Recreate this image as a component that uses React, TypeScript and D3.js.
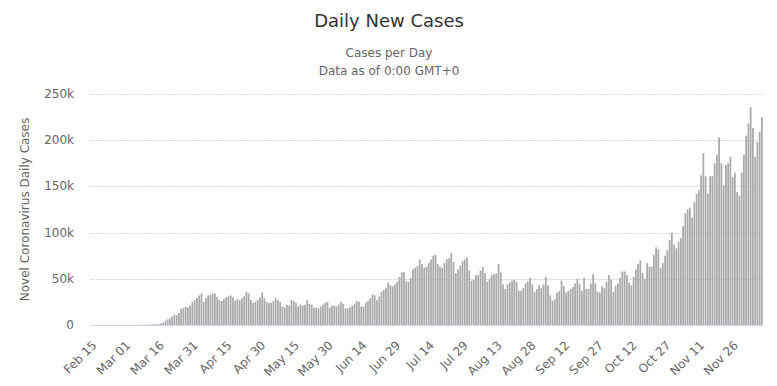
import { useMemo } from 'react'
import * as d3 from 'd3'

// daily new cases, Feb 15 .. Dec 9 (one value per day)
const feb = [0, 0, 0, 0, 0, 0, 0, 0, 0, 0, 0, 0, 1, 2, 3]
const mar = [8, 20, 25, 30, 70, 100, 110, 120, 200, 300, 400, 500, 600, 700, 800, 1000, 1800, 2500, 4500, 6000, 7000, 9000, 11000, 10500, 13000, 17500, 18500, 19500, 19000, 21000, 25000]
const apr = [27000, 29000, 32000, 34000, 25000, 29000, 32000, 33000, 34000, 34000, 30000, 27000, 26000, 28000, 30000, 31000, 32000, 30000, 26000, 28000, 27000, 29000, 31000, 36000, 34000, 27000, 24000, 25000, 27000, 30000]
const may = [35000, 29000, 25000, 24000, 24000, 26000, 29000, 27000, 25000, 20000, 19000, 22000, 21000, 27000, 26000, 24000, 20000, 22000, 21000, 22000, 27000, 23000, 22000, 19000, 19000, 18000, 20000, 22000, 24000, 25000, 19000]
const jun = [21000, 21000, 20000, 22000, 25000, 23000, 18000, 18000, 19000, 21000, 23000, 26000, 25000, 20000, 20000, 24000, 26000, 29000, 33000, 32000, 27000, 31000, 36000, 38000, 40000, 46000, 43000, 42000, 44000, 47000]
const jul = [52000, 57000, 57000, 47000, 47000, 51000, 60000, 62000, 64000, 71000, 66000, 62000, 63000, 67000, 71000, 75000, 76000, 66000, 63000, 62000, 67000, 71000, 72000, 78000, 68000, 56000, 60000, 64000, 69000, 71000, 73000]
const aug = [59000, 48000, 49000, 54000, 54000, 59000, 63000, 56000, 47000, 50000, 54000, 55000, 56000, 66000, 57000, 44000, 39000, 44000, 46000, 48000, 49000, 47000, 37000, 37000, 40000, 45000, 47000, 51000, 44000, 36000, 39000]
const sep = [43000, 40000, 44000, 52000, 43000, 32000, 26000, 28000, 35000, 37000, 48000, 42000, 35000, 37000, 39000, 41000, 45000, 50000, 44000, 37000, 51000, 39000, 39000, 45000, 55000, 45000, 36000, 35000, 42000, 40000]
const oct = [47000, 54000, 49000, 36000, 42000, 45000, 51000, 58000, 58000, 54000, 46000, 43000, 52000, 60000, 66000, 70000, 56000, 50000, 67000, 63000, 63000, 76000, 84000, 82000, 62000, 67000, 75000, 81000, 92000, 100000, 87000]
const nov = [83000, 90000, 94000, 107000, 121000, 125000, 127000, 116000, 133000, 142000, 146000, 162000, 186000, 161000, 142000, 161000, 161000, 175000, 184000, 203000, 175000, 151000, 173000, 175000, 182000, 160000, 165000, 144000, 140000, 165000]
const dec = [184000, 205000, 218000, 236000, 213000, 182000, 198000, 209000, 225000]

const cases = [...feb, ...mar, ...apr, ...may, ...jun, ...jul, ...aug, ...sep, ...oct, ...nov, ...dec]
const startDate = new Date(2020, 1, 15)
const yTicks = [0, 50000, 100000, 150000, 200000, 250000]
const labelEvery = 15

const W = 777
const H = 386
const margin = { top: 94, right: 14, bottom: 61, left: 90 }
const font = '"DejaVu Sans", sans-serif'

export default function App() {
    const dates = useMemo(
        () => cases.map((_, i) => d3.timeDay.offset(startDate, i)),
        [],
    )
    const fmt = d3.timeFormat('%b %d')
    const labels = dates.map((d) => fmt(d))

    const x = d3
        .scaleBand<string>()
        .domain(labels)
        .range([margin.left, W - margin.right])
        .paddingInner(0.22)
        .paddingOuter(0.1)
    const y = d3
        .scaleLinear()
        .domain([0, 250000])
        .range([H - margin.bottom, margin.top])

    const step = x.step()
    const tickFmt = (v: number) => (v === 0 ? '0' : `${v / 1000}k`)

    return (
        <svg
            width={W}
            height={H}
            style={{ position: 'absolute', left: 0, top: 0, background: '#fff' }}
            fontFamily={font}
        >
            <text x={389} y={27} textAnchor='middle' fontSize={18} fill='#333'>
                Daily New Cases
            </text>
            <text x={389} y={57} textAnchor='middle' fontSize={12} fill='#666'>
                Cases per Day
            </text>
            <text x={389} y={75} textAnchor='middle' fontSize={12} fill='#666'>
                Data as of 0:00 GMT+0
            </text>

            {/* grid */}
            <g>
                {yTicks.map((t) => (
                    <g key={t}>
                        {t > 0 && (
                            <line
                                x1={margin.left}
                                x2={W - margin.right}
                                y1={Math.round(y(t)) + 0.5}
                                y2={Math.round(y(t)) + 0.5}
                                stroke='#d6d6d6'
                                strokeDasharray='2 1'
                            />
                        )}
                        <text
                            x={74}
                            y={y(t) + 4}
                            textAnchor='end'
                            fontSize={12}
                            fill='#666'
                        >
                            {tickFmt(t)}
                        </text>
                    </g>
                ))}
            </g>

            <text
                transform={`translate(29,${(margin.top + H - margin.bottom) / 2}) rotate(-90)`}
                textAnchor='middle'
                fontSize={12}
                fill='#666'
            >
                Novel Coronavirus Daily Cases
            </text>

            {/* bars */}
            <g fill='#aaa'>
                {cases.map((v, i) => (
                    <rect
                        key={i}
                        x={x(labels[i])}
                        y={y(v)}
                        width={x.bandwidth()}
                        height={y(0) - y(v)}
                    />
                ))}
            </g>

            <line
                x1={margin.left}
                x2={W - margin.right}
                y1={Math.round(y(0)) + 0.5}
                y2={Math.round(y(0)) + 0.5}
                stroke='#ccd6eb'
            />

            {/* x labels */}
            <g fontSize={12} fill='#666'>
                {labels.map((l, i) =>
                    i % labelEvery === 0 ? (
                        <text
                            key={l}
                            transform={`translate(${(x(l) ?? 0) + step / 2 + 6},${y(0) + 21}) rotate(-45)`}
                            textAnchor='end'
                        >
                            {l}
                        </text>
                    ) : null,
                )}
            </g>
        </svg>
    )
}
